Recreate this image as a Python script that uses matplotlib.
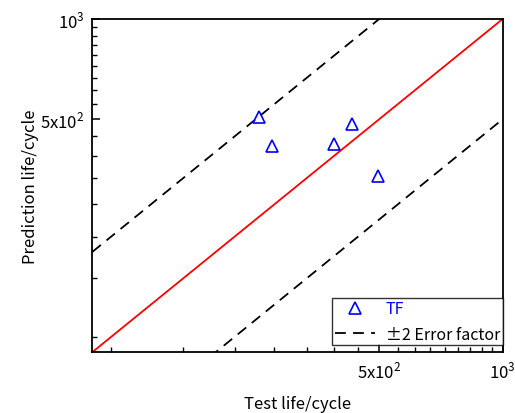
import numpy as np
import matplotlib
matplotlib.use('Agg')
import matplotlib.pyplot as plt
from matplotlib.ticker import FixedLocator, FixedFormatter, NullFormatter

plt.rcParams['font.family'] = ['Noto Sans CJK SC', 'DejaVu Sans']
plt.rcParams['mathtext.fontset'] = 'custom'
plt.rcParams['mathtext.rm'] = 'Noto Sans CJK SC'

# data
test_life = [255, 274, 387, 430, 497]
pred_life = [507, 416, 421, 484, 338]
axis_lim = [100, 1000]
major_ticks = [500, 1000]
major_labels = ['5x10$^{\\mathregular{2}}$', '10$^{\\mathregular{3}}$']
minor_ticks = [500.0 * k / 9 for k in range(2, 18)]

fig = plt.figure(figsize=(5.15, 4.14), dpi=100)
ax = fig.add_axes([0.1796, 0.1473, 0.7964, 0.8044])

ref = np.array(axis_lim, dtype=float)
ax.plot(ref, ref, color='red', lw=1.3, zorder=2)
ax.plot(ref, ref * 2, color='black', lw=1.3, linestyle=(0, (6, 4)),
        label='\u00b12 Error factor', zorder=2)
ax.plot(ref, ref / 2, color='black', lw=1.3, linestyle=(0, (6, 4)), zorder=2)
ax.plot(test_life, pred_life, linestyle='none', marker='^', markersize=9,
        markerfacecolor='none', markeredgecolor='blue', markeredgewidth=1.2,
        label='TF', zorder=3)

ax.set_xscale('log')
ax.set_yscale('log')
ax.set_xlim(axis_lim)
ax.set_ylim(axis_lim)

for axis in (ax.xaxis, ax.yaxis):
    axis.set_major_locator(FixedLocator(major_ticks))
    axis.set_major_formatter(FixedFormatter(major_labels))
    axis.set_minor_locator(FixedLocator(minor_ticks))
    axis.set_minor_formatter(NullFormatter())

ax.tick_params(which='major', direction='in', length=6, width=1.1,
               labelsize=12, top=False, right=False, pad=6)
ax.tick_params(which='minor', direction='in', length=3.5, width=1.0,
               top=False, right=False)
for sp in ax.spines.values():
    sp.set_linewidth(1.3)
    sp.set_color('black')

ax.set_xlabel('Test life/cycle', fontsize=12, labelpad=10)
ax.set_ylabel('Prediction life/cycle', fontsize=12, labelpad=1)

h, l = ax.get_legend_handles_labels()
leg = ax.legend(h[::-1], l[::-1], loc='lower right', fontsize=11.5,
                frameon=True, fancybox=False, edgecolor='black',
                bbox_to_anchor=(1.0, 0.02), borderaxespad=0.0,
                handlelength=2.55, handletextpad=0.65, borderpad=0.15,
                labelspacing=0.55)
leg.get_frame().set_linewidth(1.0)
leg.get_texts()[0].set_color('blue')

fig.savefig('out.png', dpi=100)
